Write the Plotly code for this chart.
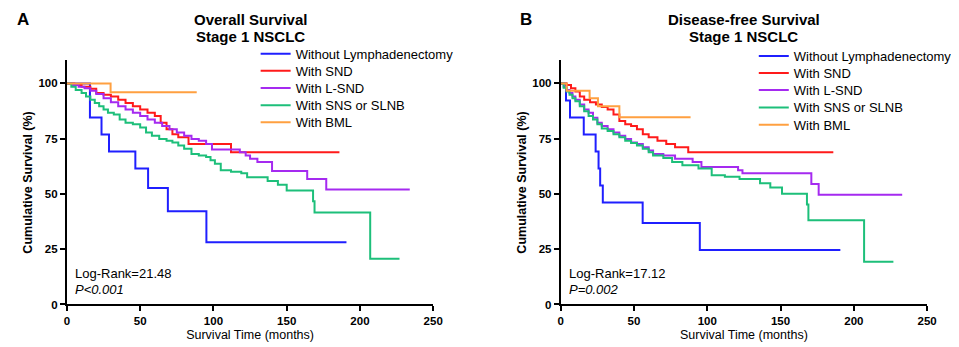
import plotly.graph_objects as go

names = ["Without Lymphadenectomy", "With SND", "With L-SND", "With SNS or SLNB", "With BML"]
colors = ["#1f1fff", "#ff1a1a", "#a52af0", "#1dbf7a", "#ffa040"]

# Panel A: Overall survival
os_blue_t = [0, 15.7, 23.6, 28.7, 46.7, 55.4, 68.9, 95.2, 190.8]
os_blue_s = [100, 84.6, 76.9, 69.2, 61.5, 52.7, 42.2, 28.1, 28.1]
os_red_t = [0, 5, 10, 16, 20, 25, 30, 35, 40, 45, 50, 55, 60, 64, 68, 72, 76, 83, 112, 186]
os_red_s = [100, 99.3, 98.5, 97.6, 95.6, 94.8, 94.1, 92.6, 91.1, 89.6, 88.2, 86.7, 85.2, 82.2, 79.3, 77.0, 75.6, 72.6, 68.9, 68.9]
os_purple_t = [0, 4, 8, 12, 16, 20, 25, 30, 35, 40, 45, 50, 55, 60, 65, 70, 75, 80, 85, 90, 95, 99, 118, 122, 125, 130, 140, 164, 177, 234]
os_purple_s = [100, 99.3, 98.5, 97.8, 96.7, 95.2, 93.3, 91.5, 89.6, 88.2, 86.7, 85.2, 83.7, 82.2, 80.7, 79.3, 77.8, 76.3, 74.8, 74.1, 72.6, 70.1, 68.9, 67.4, 65.9, 64.4, 60.4, 56.7, 52.0, 52.0]
os_green_t = [0, 3, 6, 10, 13, 16, 19, 22, 25, 28, 32, 36, 40, 45, 50, 54, 58, 63, 68, 72, 76, 80, 85, 90, 95, 98, 101, 105, 112, 119, 123, 137, 144, 150, 168, 169, 207, 227]
os_green_s = [100, 98.5, 97.0, 95.6, 94.1, 92.6, 91.1, 89.6, 88.2, 86.7, 85.9, 83.7, 82.2, 81.5, 80.0, 77.8, 76.3, 74.8, 74.1, 73.3, 71.9, 70.4, 68.1, 67.4, 66.7, 65.2, 63.7, 60.7, 60.0, 59.3, 57.6, 55.9, 54.1, 51.6, 46.7, 41.6, 20.7, 20.7]
os_orange_t = [0, 29.8, 88.6]
os_orange_s = [100, 96.0, 96.0]

# Panel B: Disease-free survival
dfs_blue_t = [0, 3.6, 6.3, 15.7, 23.8, 25.8, 26.9, 28.7, 55.9, 94.9, 190.8]
dfs_blue_s = [100, 92.3, 84.6, 76.9, 69.2, 61.5, 53.8, 46.1, 36.9, 24.6, 24.6]
dfs_red_t = [0, 4, 7, 10, 13, 16, 20, 24, 28, 32, 36, 40, 44, 48, 52, 56, 60, 66, 72, 78, 87, 186]
dfs_red_s = [100, 99.3, 97.8, 96.3, 94.1, 92.6, 91.5, 90.4, 89.3, 88.2, 85.9, 83.0, 81.5, 80.7, 79.3, 77.0, 75.6, 74.1, 72.6, 71.1, 68.9, 68.9]
dfs_purple_t = [0, 2, 4, 6, 8, 10, 13, 16, 19, 22, 25, 28, 32, 36, 40, 44, 48, 52, 56, 60, 63, 70, 78, 90, 96, 121, 124, 171, 176, 233]
dfs_purple_s = [100, 98.5, 97.0, 95.6, 94.1, 92.6, 90.4, 88.2, 86.7, 84.4, 82.2, 80.7, 79.3, 77.8, 76.3, 74.8, 73.3, 72.6, 71.1, 69.6, 68.1, 67.4, 65.9, 64.4, 62.2, 60.7, 59.3, 54.5, 49.6, 49.6]
dfs_green_t = [0, 2, 4, 6, 8, 10, 13, 16, 19, 22, 25, 28, 32, 36, 40, 44, 48, 52, 56, 60, 63, 70, 76, 83, 94, 103, 112, 122, 136, 143, 151, 168, 169, 207, 227]
dfs_green_s = [100, 98.0, 96.3, 94.8, 93.3, 91.9, 89.6, 87.4, 85.2, 83.7, 81.5, 79.6, 78.5, 77.0, 75.6, 74.1, 73.0, 71.9, 70.4, 68.9, 67.4, 66.3, 64.4, 63.0, 61.5, 58.5, 57.8, 56.7, 54.8, 52.9, 50.1, 45.2, 38.1, 19.3, 19.3]
dfs_orange_t = [0, 4, 19.7, 25.4, 40, 88.6]
dfs_orange_s = [100, 96.7, 93.3, 89.6, 84.7, 84.7]

x_ticks = [0, 50, 100, 150, 200, 250]
y_ticks = [0, 25, 50, 75, 100]

W, H = 959, 347
# legend placement (pixels): left edge of legend box, row anchors
panels = [
    ("x", "y", 248, [46.5, 63.9, 81.5, 98.9, 116.2],
     [(os_blue_t, os_blue_s), (os_red_t, os_red_s), (os_purple_t, os_purple_s), (os_green_t, os_green_s), (os_orange_t, os_orange_s)]),
    ("x2", "y2", 753, [48.9, 66.2, 83.5, 101.2, 118.9],
     [(dfs_blue_t, dfs_blue_s), (dfs_red_t, dfs_red_s), (dfs_purple_t, dfs_purple_s), (dfs_green_t, dfs_green_s), (dfs_orange_t, dfs_orange_s)]),
]

fig = go.Figure()
legend_layouts = {}
k = 0
for xa, ya, lx, rows, series in panels:
    for i, (t, s) in enumerate(series):
        k += 1
        lname = "legend" if k == 1 else f"legend{k}"
        fig.add_trace(go.Scatter(x=t, y=s, mode="lines", line=dict(color=colors[i], width=2, shape="hv"),
                                 name=names[i], xaxis=xa, yaxis=ya, legend=lname, showlegend=True))
        legend_layouts[lname] = dict(x=lx / W, y=1 - rows[i] / H, xanchor="left", yanchor="middle", visible=True,
                                     font=dict(size=13), bgcolor="rgba(0,0,0,0)", itemwidth=30)

ax_common = dict(showline=True, linecolor="black", linewidth=2, ticks="outside", ticklen=5, tickwidth=2,
                 tickcolor="black", showgrid=False, zeroline=False,
                 tickfont=dict(family="Arial", size=11.5, color="black", weight="bold"))

ydom = [(347 - 301.7) / H, (347 - 53.3) / H]
xtitle = dict(text="Survival Time (months)", font=dict(size=12.5), standoff=4)
ytitle = dict(text="Cumulative Survival (%)", font=dict(size=12.5, weight="bold"), standoff=3)
fig.update_layout(
    width=W, height=H, margin=dict(l=0, r=0, t=0, b=0),
    showlegend=True,
    plot_bgcolor="white", paper_bgcolor="white",
    font=dict(family="Arial", color="black"),
    xaxis=dict(domain=[56.7 / W, 428 / W], range=[0, 250], tickvals=x_ticks, anchor="y", title=xtitle, **ax_common),
    yaxis=dict(domain=ydom, range=[0, 110.4], tickvals=y_ticks, anchor="x", title=ytitle, **ax_common),
    xaxis2=dict(domain=[557.3 / W, 928.7 / W], range=[0, 250], tickvals=x_ticks, anchor="y2", title=xtitle, **ax_common),
    yaxis2=dict(domain=ydom, range=[0, 110.4], tickvals=y_ticks, anchor="x2", title=ytitle, **ax_common),
    **legend_layouts,
)

ann = [
    dict(text="<b>A</b>", x=4 / W, y=1 - 12 / H, font=dict(size=17)),
    dict(text="<b>B</b>", x=514 / W, y=1 - 12 / H, font=dict(size=17)),
    dict(text="<b>Overall Survival</b>", x=243 / W, y=1 - 12 / H, font=dict(size=15), xanchor="center"),
    dict(text="<b>Stage 1 NSCLC</b>", x=243 / W, y=1 - 29 / H, font=dict(size=15), xanchor="center"),
    dict(text="<b>Disease-free Survival</b>", x=743 / W, y=1 - 12 / H, font=dict(size=15), xanchor="center"),
    dict(text="<b>Stage 1 NSCLC</b>", x=743 / W, y=1 - 29 / H, font=dict(size=15), xanchor="center"),
    dict(text="Log-Rank=21.48", x=63 / W, y=1 - 270 / H, font=dict(size=13)),
    dict(text="<i>P<0.001</i>", x=63 / W, y=1 - 286 / H, font=dict(size=13)),
    dict(text="Log-Rank=17.12", x=564 / W, y=1 - 270 / H, font=dict(size=13)),
    dict(text="<i>P=0.002</i>", x=564 / W, y=1 - 286 / H, font=dict(size=13)),
]
for a in ann:
    a.setdefault("xanchor", "left")
    fig.add_annotation(xref="paper", yref="paper", yanchor="middle", showarrow=False, **a)

fig.write_html("out.html")
